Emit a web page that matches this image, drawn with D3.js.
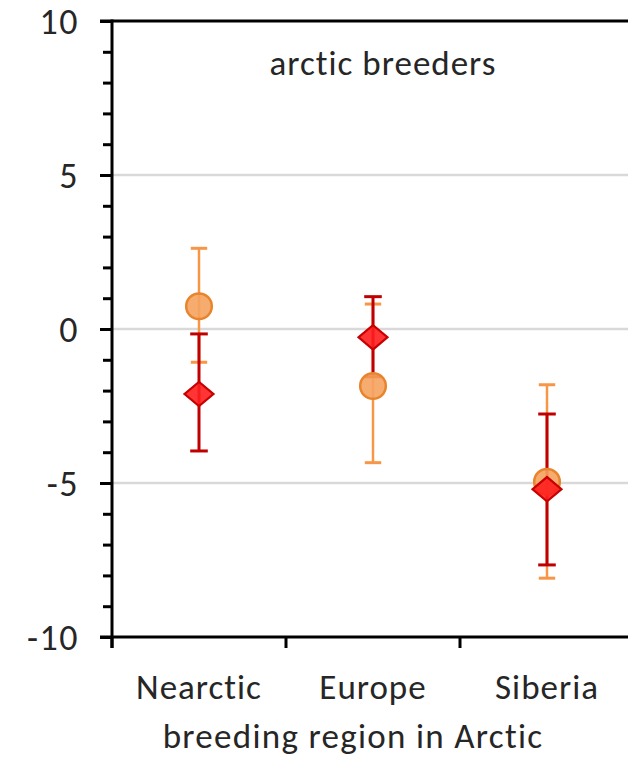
<!DOCTYPE html>
<html>
<head>
<meta charset="utf-8">
<script src="https://cdn.jsdelivr.net/npm/d3@7"></script>
<style>
  html, body { margin: 0; padding: 0; background: #fff; }
  svg { display: block; font-family: Carlito, Lato, "Open Sans", sans-serif; font-variant-ligatures: none; }
</style>
</head>
<body>
<svg id="chart" width="628" height="761"></svg>
<script>
// Breeding regions along the x axis
const regions = ["Nearctic", "Europe", "Siberia"];

// Series 1 (circles): mean with lower / upper error limits
const circleMean = [0.74, -1.85, -4.96];
const circleLow  = [-1.08, -4.34, -8.09];
const circleHigh = [2.62, 0.81, -1.81];

// Series 2 (diamonds): mean with lower / upper error limits
const diamondMean = [-2.11, -0.27, -5.20];
const diamondLow  = [-3.96, -1.55, -7.66];
const diamondHigh = [-0.16, 1.05, -2.76];

// Axis ticks
const majorTicks = [10, 5, 0, -5, -10];
const minorTicks = d3.range(-10, 11, 1);
const gridValues = [5, 0, -5];

const panelTitle = "arctic breeders";
const xTitle = "breeding region in Arctic";

const svg = d3.select("#chart");
const plotLeft = 112, plotTop = 21, plotBottom = 637, plotRight = 634;

const x = d3.scaleBand().domain(regions).range([plotLeft, plotRight]);
const y = d3.scaleLinear().domain([-10, 10]).range([plotBottom, plotTop]);

const fontSize = 35;
const textColor = "#262626";

// gridlines
svg.append("g").selectAll("line").data(gridValues).join("line")
  .attr("x1", plotLeft).attr("x2", 628)
  .attr("y1", d => y(d)).attr("y2", d => y(d))
  .attr("stroke", "#d9d9d9").attr("stroke-width", 2.5);

// y axis: minor ticks every unit, major ticks with labels
const yMinor = d3.axisLeft(y).tickValues(minorTicks).tickSize(9).tickFormat("");
const gMinor = svg.append("g").attr("transform", `translate(${plotLeft},0)`).call(yMinor);
gMinor.select(".domain").remove();
gMinor.selectAll("line").attr("stroke", "#000").attr("stroke-width", 3);

// labels use a plain hyphen for negatives
const yMajor = d3.axisLeft(y).tickValues(majorTicks).tickSize(12).tickPadding(21)
  .tickFormat(d => String(d));
const gMajor = svg.append("g").attr("transform", `translate(${plotLeft},0)`).call(yMajor);
gMajor.select(".domain").remove();
gMajor.selectAll("line").attr("stroke", "#000").attr("stroke-width", 3);
gMajor.selectAll("text").attr("font-size", 36).attr("fill", textColor)
  .attr("font-family", "Carlito, Lato, sans-serif")
  .attr("letter-spacing", 1.5).attr("dy", "0.36em");

// x axis: tick marks at band boundaries
const xEdges = [plotLeft].concat(regions.map(r => x(r) + x.bandwidth()));
svg.append("g").selectAll("line").data(xEdges).join("line")
  .attr("x1", d => d).attr("x2", d => d)
  .attr("y1", plotBottom).attr("y2", plotBottom + 11)
  .attr("stroke", "#000").attr("stroke-width", 3);

// frame lines: left spine, bottom axis, top border
svg.append("line").attr("x1", plotLeft).attr("x2", plotLeft).attr("y1", plotTop - 1.5).attr("y2", plotBottom + 11)
  .attr("stroke", "#000").attr("stroke-width", 3);
svg.append("line").attr("x1", 100).attr("x2", 628).attr("y1", plotBottom).attr("y2", plotBottom)
  .attr("stroke", "#000").attr("stroke-width", 3);
svg.append("line").attr("x1", 100).attr("x2", 628).attr("y1", plotTop).attr("y2", plotTop)
  .attr("stroke", "#000").attr("stroke-width", 3);

// category labels
svg.append("g").selectAll("text").data(regions).join("text")
  .attr("x", d => x(d) + x.bandwidth() / 2)
  .attr("y", 699)
  .attr("text-anchor", "middle")
  .attr("font-size", fontSize).attr("letter-spacing", 1).attr("fill", textColor)
  .text(d => d);

// axis title
svg.append("text").attr("x", 353).attr("y", 748)
  .attr("text-anchor", "middle").attr("font-size", fontSize).attr("letter-spacing", 1.3)
  .attr("fill", textColor)
  .text(xTitle);

// panel title
svg.append("text").attr("x", 383).attr("y", 75)
  .attr("text-anchor", "middle").attr("font-size", fontSize).attr("letter-spacing", 1)
  .attr("fill", textColor)
  .text(panelTitle);

const cx = i => x(regions[i]) + x.bandwidth() / 2;

function errorBars(low, high, color, width, capHalf) {
  const g = svg.append("g");
  regions.forEach((r, i) => {
    g.append("line").attr("x1", cx(i)).attr("x2", cx(i))
      .attr("y1", y(low[i])).attr("y2", y(high[i]))
      .attr("stroke", color).attr("stroke-width", width);
    [low[i], high[i]].forEach(v => {
      g.append("line").attr("x1", cx(i) - capHalf).attr("x2", cx(i) + capHalf)
        .attr("y1", y(v)).attr("y2", y(v))
        .attr("stroke", color).attr("stroke-width", 3);
    });
  });
}

errorBars(circleLow, circleHigh, "#f79646", 2.5, 8.2);
errorBars(diamondLow, diamondHigh, "#c00000", 3, 8.8);

// circle markers
svg.append("g").selectAll("circle").data(circleMean).join("circle")
  .attr("cx", (d, i) => cx(i)).attr("cy", d => y(d)).attr("r", 12.8)
  .attr("fill", "rgba(245,162,95,0.9)").attr("stroke", "#e8842c").attr("stroke-width", 2.5);

// diamond markers, slightly flattened
const diamond = d3.symbol().type(d3.symbolSquare).size(420);
svg.append("g").selectAll("path").data(diamondMean).join("path")
  .attr("d", diamond)
  .attr("transform", (d, i) => `translate(${cx(i)},${y(d)}) scale(1,0.84) rotate(45)`)
  .attr("fill", "rgba(255,30,30,0.9)").attr("stroke", "#c80000").attr("stroke-width", 2.4);
</script>
</body>
</html>
